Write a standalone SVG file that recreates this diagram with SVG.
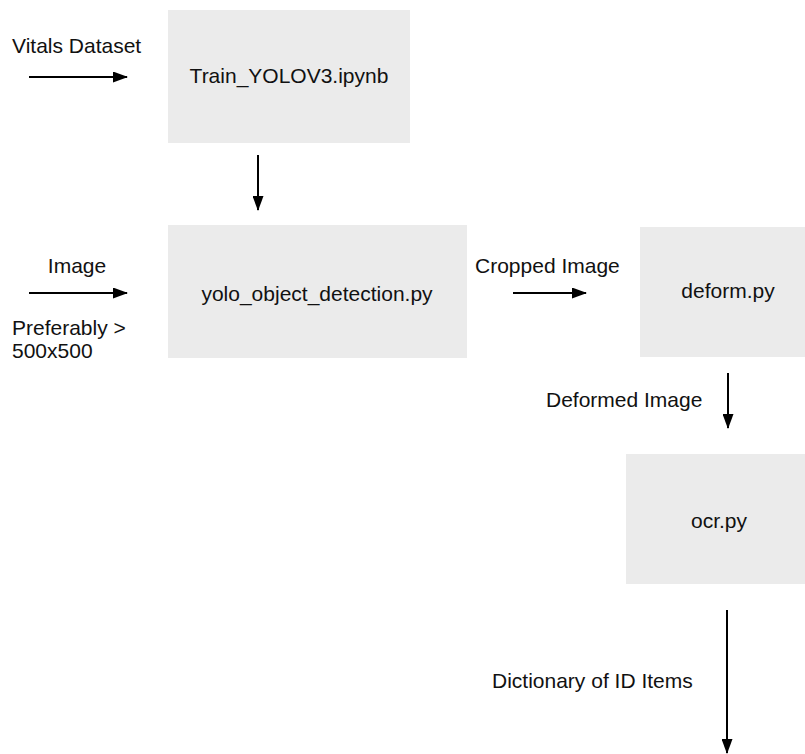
<svg xmlns="http://www.w3.org/2000/svg" width="805" height="754" viewBox="0 0 805 754">
<style>
.box{fill:#ebebeb;}
text{font-family:"Liberation Sans",Arial,sans-serif;font-size:21px;fill:#111;}
.c{text-anchor:middle;}
.ln{stroke:#000;stroke-width:2;fill:none;marker-end:url(#ah);}
</style>
<defs>
<marker id="ah" markerUnits="userSpaceOnUse" markerWidth="15" markerHeight="11" refX="14" refY="5.5" orient="auto">
<path d="M0,0 L15,5.5 L0,11 z" fill="#000"/>
</marker>
</defs>
<rect width="805" height="754" fill="#fff"/>
<g id="train">
<rect class="box" x="168" y="10" width="242" height="133"/>
<text class="c" x="289" y="83">Train_YOLOV3.ipynb</text>
</g>
<g id="yolo">
<rect class="box" x="168" y="225" width="299" height="133"/>
<text class="c" x="317" y="301">yolo_object_detection.py</text>
</g>
<g id="deform">
<rect class="box" x="640" y="227" width="165" height="130"/>
<text class="c" x="728" y="298">deform.py</text>
</g>
<g id="ocr">
<rect class="box" x="626" y="454" width="179" height="130"/>
<text class="c" x="719" y="528">ocr.py</text>
</g>
<g id="connectors">
<line class="ln" x1="29" y1="77" x2="127" y2="77"/>
<line class="ln" x1="258" y1="155" x2="258" y2="210"/>
<line class="ln" x1="29" y1="293" x2="127" y2="293"/>
<line class="ln" x1="513" y1="293" x2="586" y2="293"/>
<line class="ln" x1="728" y1="373" x2="728" y2="428"/>
<line class="ln" x1="727" y1="610" x2="727" y2="753"/>
</g>
<g id="labels">
<text x="12" y="53">Vitals Dataset</text>
<text class="c" x="77" y="273">Image</text>
<text x="12" y="335">Preferably &gt;</text>
<text x="12" y="358">500x500</text>
<text x="475" y="273">Cropped Image</text>
<text x="546" y="407">Deformed Image</text>
<text x="492" y="688">Dictionary of ID Items</text>
</g>
</svg>
